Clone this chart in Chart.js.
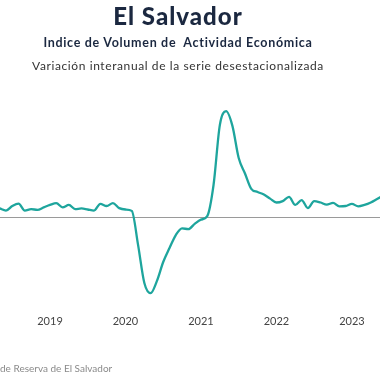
<!DOCTYPE html>
<html>
<head>
<meta charset="utf-8">
<script src="https://cdn.jsdelivr.net/npm/chart.js@4.4.1/dist/chart.umd.min.js"></script>
<style>
  html, body { margin: 0; padding: 0; background: #fff; }
  #wrap { position: relative; width: 380px; height: 380px; overflow: hidden; background: #fff; }
  canvas { position: absolute; left: 0; top: 0; }
  .t { position: absolute; left: 0; width: 356px; text-align: center; white-space: pre; font-family: Lato, "Open Sans", sans-serif; }
  #t1 { top: 4px; font-size: 24px; line-height: 24px; font-weight: 900; color: #1b2840; letter-spacing: 1px; }
  #t2 { top: 35px; font-size: 12.5px; line-height: 15px; font-weight: 700; color: #1b2840; letter-spacing: 0.7px; }
  #t3 { top: 59px; font-size: 12px; line-height: 14px; color: #333; letter-spacing: 0.6px; }
  #src { position: absolute; left: 0; top: 362px; font-family: Lato, "Open Sans", sans-serif; font-size: 10px; line-height: 12px; color: #8a8a8a; white-space: pre; }
</style>
</head>
<body>
<div id="wrap">
  <canvas id="c" width="380" height="380"></canvas>
  <div class="t" id="t1">El Salvador</div>
  <div class="t" id="t2">Indice de Volumen de  Actividad Económica</div>
  <div class="t" id="t3">Variación interanual de la serie desestacionalizada</div>
  <div id="src">de Reserva de El Salvador</div>
</div>
<script>
// Month index: 0 = January 2018. First value is May 2018 (index 4).
const startMonth = 4;
const yearTicks = ["2019", "2020", "2021", "2022", "2023"];
const yearTickMonths = [12, 24, 36, 48, 60];
// Year-on-year variation (%) of the seasonally adjusted IVAE, May 2018 .. Jun 2023
const ivae = [
  2.3, 1.7, 3.0, 3.7, 1.7, 2.1, 1.9, 2.6,          // May-Dec 2018
  3.3, 3.8, 2.6, 3.3, 2.1, 2.3, 2.0, 1.7, 3.6, 3.0, 3.8, 2.4,   // 2019
  2.0, 1.6, -8.1, -19.0, -21.9, -18.4, -13.0, -9.0, -5.3, -3.4, -3.6, -2.1, // 2020
  -0.9, 0.1, 9.0, 26.1, 30.1, 25.9, 16.7, 12.3, 7.9, 7.0, 6.3, 5.1,       // 2021
  4.0, 4.4, 5.6, 3.3, 4.7, 2.4, 4.4, 4.0, 3.4, 3.9, 2.9, 3.0,             // 2022
  3.6, 2.9, 3.3, 4.0, 5.0, 6.0                                            // Jan-Jun 2023
];

const points = ivae.map((v, i) => ({ x: startMonth + i, y: v }));

const zeroLine = {
  id: 'zeroLine',
  beforeDatasetsDraw(chart) {
    const { ctx, chartArea, scales } = chart;
    const y = Math.round(scales.y.getPixelForValue(0)) + 0.5;
    ctx.save();
    ctx.strokeStyle = '#9a9a9a';
    ctx.lineWidth = 1;
    ctx.beginPath();
    ctx.moveTo(chartArea.left, y);
    ctx.lineTo(chartArea.right, y);
    ctx.stroke();
    ctx.restore();
  }
};

const pxPerMonth = 6.29;
const xMin = 12 - 50 / pxPerMonth;
const xMax = xMin + 380 / pxPerMonth;
const areaTop = 90, areaBottom = 310, zeroPx = 216.5, pxPerPct = 3.5;

new Chart(document.getElementById('c'), {
  type: 'line',
  data: {
    datasets: [{
      data: points,
      borderColor: '#1ea59d',
      borderWidth: 2.3,
      pointRadius: 0,
      tension: 0.4,
      cubicInterpolationMode: 'monotone',
      fill: false
    }]
  },
  options: {
    responsive: false,
    animation: false,
    events: [],
    layout: { padding: { left: 0, right: 0, top: areaTop, bottom: 380 - areaBottom - 40 } },
    plugins: { legend: { display: false }, tooltip: { enabled: false }, title: { display: false } },
    scales: {
      x: {
        type: 'linear',
        min: xMin,
        max: xMax,
        grid: { display: false, drawTicks: false },
        border: { display: false },
        afterFit(scale) { scale.height = 40; },
        afterBuildTicks(scale) { scale.ticks = yearTickMonths.map(m => ({ value: m })); },
        ticks: {
          autoSkip: false,
          maxRotation: 0,
          padding: 5,
          color: '#444',
          font: { family: 'Lato, "Open Sans", sans-serif', size: 11 },
          callback(value) { const k = yearTickMonths.indexOf(value); return k >= 0 ? yearTicks[k] : ''; }
        }
      },
      y: {
        display: false,
        min: -(areaBottom - zeroPx) / pxPerPct,
        max: (zeroPx - areaTop) / pxPerPct
      }
    }
  },
  plugins: [zeroLine]
});
</script>
</body>
</html>
